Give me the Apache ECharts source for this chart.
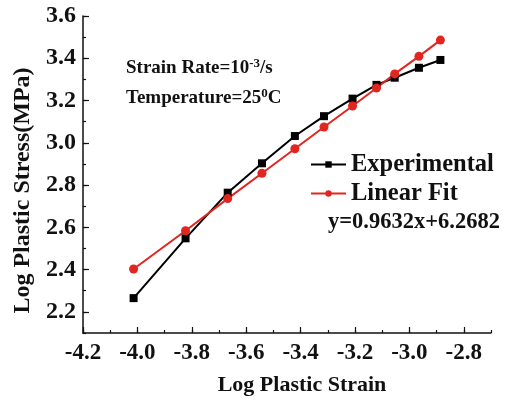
<!DOCTYPE html>
<html>
<head>
<meta charset="utf-8">
<script src="https://cdn.jsdelivr.net/npm/echarts@6/dist/echarts.min.js"></script>
<style>html,body{margin:0;padding:0;background:#fff}#c{width:518px;height:406px}</style>
</head>
<body>
<div id="c"></div>
<script>
const logStrain = [-4.014, -3.823, -3.668, -3.542, -3.421, -3.314, -3.209, -3.121, -3.054, -2.965, -2.886];
const experimental = [2.265, 2.548, 2.764, 2.903, 3.032, 3.126, 3.209, 3.274, 3.308, 3.355, 3.392];
const linearFit = [2.403, 2.584, 2.736, 2.856, 2.972, 3.075, 3.174, 3.259, 3.326, 3.409, 3.486];
const xTicks = [-4.2, -4.0, -3.8, -3.6, -3.4, -3.2, -3.0, -2.8];
const yTicks = [2.2, 2.4, 2.6, 2.8, 3.0, 3.2, 3.4, 3.6];

const FONT = '"Liberation Serif", "Times New Roman", serif';
const RED = '#e2261f';
const INK = '#111';

const chart = echarts.init(document.getElementById('c'), null, {renderer: 'canvas'});
const pair = (xs, ys) => xs.map((x, i) => [x, ys[i]]);

const option = {
  animation: false,
  backgroundColor: '#fff',
  grid: {left: 83, right: 27, top: 16, bottom: 73, containLabel: false},
  xAxis: [{
    type: 'value', min: -4.2, max: -2.7, interval: 0.1,
    name: 'Log Plastic Strain', nameLocation: 'middle', nameGap: 41,
    nameTextStyle: {fontFamily: FONT, fontWeight: 'bold', fontSize: 22, color: INK, padding: [0, 0, 0, 30]},
    axisLine: {show: true, lineStyle: {color: INK, width: 1.5}},
    axisTick: {show: true, inside: true, length: 6, lineStyle: {color: INK, width: 1.2}, customValues: xTicks},
    axisLabel: {customValues: xTicks, fontFamily: FONT, fontWeight: 'bold', fontSize: 23, color: INK, margin: 9,
      formatter: v => v.toFixed(1)},
    splitLine: {show: false}
  }, {
    type: 'value', min: -4.2, max: -2.7, interval: 0.1, position: 'bottom',
    axisLine: {show: false},
    axisTick: {show: true, inside: true, length: 3, lineStyle: {color: INK, width: 1.2}},
    axisLabel: {show: false},
    splitLine: {show: false}
  }],
  yAxis: [{
    type: 'value', min: 2.1, max: 3.6, interval: 0.1,
    name: 'Log Plastic Stress(MPa)', nameLocation: 'middle', nameGap: 44,
    nameTextStyle: {fontFamily: FONT, fontWeight: 'bold', fontSize: 24, color: INK, padding: [0, 32, 0, 0]},
    axisLine: {show: true, lineStyle: {color: INK, width: 1.5}},
    axisTick: {show: true, inside: true, length: 6, lineStyle: {color: INK, width: 1.2}, customValues: yTicks},
    axisLabel: {customValues: yTicks, fontFamily: FONT, fontWeight: 'bold', fontSize: 24, color: INK, margin: 7,
      formatter: v => v.toFixed(1)},
    splitLine: {show: false}
  }, {
    type: 'value', min: 2.1, max: 3.6, interval: 0.1, position: 'left',
    axisLine: {show: false},
    axisTick: {show: true, inside: true, length: 3, lineStyle: {color: INK, width: 1.2}},
    axisLabel: {show: false},
    splitLine: {show: false}
  }],
  legend: {
    orient: 'vertical', left: 305, top: 147, itemWidth: 35, itemHeight: 8, itemGap: 4,
    textStyle: {fontFamily: FONT, fontWeight: 'bold', fontSize: 24.5, color: INK},
    data: ['Experimental', 'Linear Fit']
  },
  graphic: [
    {type: 'text', x: 126, y: 68, style: {
      text: '{a|Strain Rate=10}{s|-3}{a|/s}', verticalAlign: 'middle', fill: INK,
      rich: {a: {fontFamily: FONT, fontWeight: 'bold', fontSize: 19, lineHeight: 22, fill: INK},
             s: {fontFamily: FONT, fontWeight: 'bold', fontSize: 13, lineHeight: 14, verticalAlign: 'top', fill: INK}}
    }},
    {type: 'text', x: 126, y: 98, style: {
      text: '{a|Temperature=25}{s|0}{a|C}', verticalAlign: 'middle', fill: INK,
      rich: {a: {fontFamily: FONT, fontWeight: 'bold', fontSize: 19, lineHeight: 22, fill: INK},
             s: {fontFamily: FONT, fontWeight: 'bold', fontSize: 13, lineHeight: 14, verticalAlign: 'top', fill: INK}}
    }},
    {type: 'text', x: 328, y: 222, style: {
      text: 'y=0.9632x+6.2682', verticalAlign: 'middle', fill: INK,
      font: 'bold 22.5px ' + FONT
    }}
  ],
  series: [{
    name: 'Experimental', type: 'line', xAxisIndex: 0, yAxisIndex: 0,
    data: pair(logStrain, experimental),
    symbol: 'rect', symbolSize: 8,
    lineStyle: {color: '#000', width: 2}, itemStyle: {color: '#000'}
  }, {
    name: 'Linear Fit', type: 'line', xAxisIndex: 0, yAxisIndex: 0,
    data: pair(logStrain, linearFit),
    symbol: 'circle', symbolSize: 9,
    lineStyle: {color: RED, width: 2}, itemStyle: {color: RED}
  }]
};
chart.setOption(option);
</script>
</body>
</html>
